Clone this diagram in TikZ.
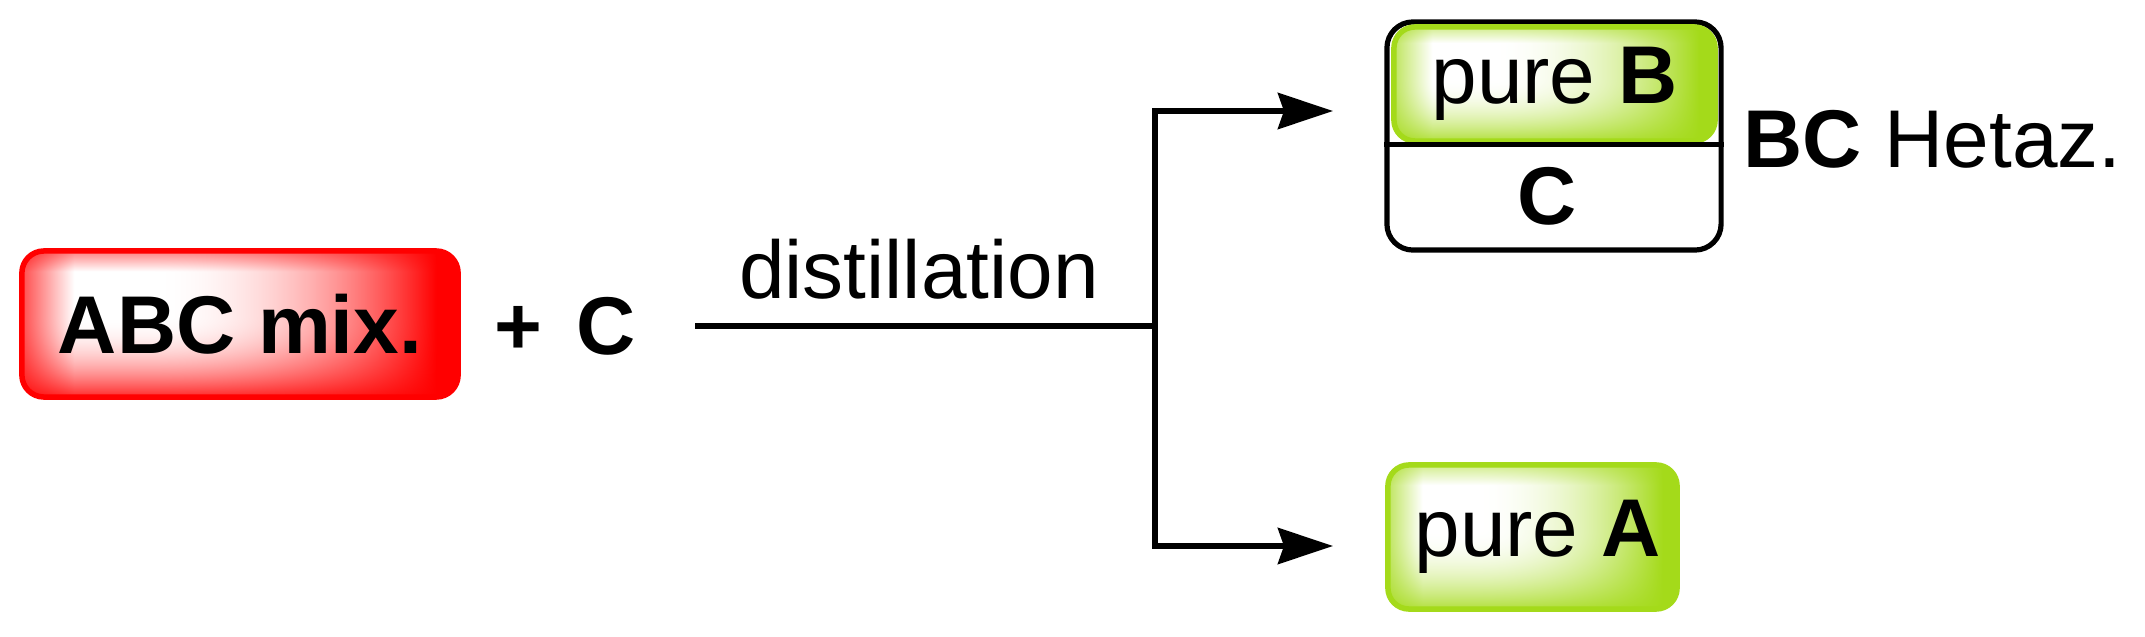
\documentclass[tikz,border=0pt]{standalone}
\usepackage{fontspec}
\setmainfont{Liberation Sans}
\usetikzlibrary{arrows.meta}
\definecolor{lgreen}{rgb}{0.643,0.855,0.102}
% glossy factor P = 1 - redness, computed from x,y (box maps to 25..75)
\pgfdeclarefunctionalshading{redgloss}{\pgfpointorigin}{\pgfpoint{100bp}{100bp}}{}{
  25 sub 50 div
  dup 1.8 mul 1 exch sub dup 0 lt {pop 0} if dup mul 0.85 mul
  exch
  0.86 sub 0.14 div dup 0 lt {pop 0} if dup 1 gt {pop 1} if 0.5 mul
  1 exch sub exch 1 exch sub mul
  exch
  25 sub 50 div
  dup 0.3 sub 0.65 div dup 0 lt {pop 0} if dup 1 gt {pop 1} if dup mul
  1 exch sub
  exch
  0.12 exch sub 0.12 div dup 0 lt {pop 0} if dup 1 gt {pop 1} if 0.7 mul 1 exch sub
  mul mul
  dup 1 3 1 roll
}
\pgfdeclarefunctionalshading{greengloss}{\pgfpointorigin}{\pgfpoint{100bp}{100bp}}{}{
  25 sub 50 div
  dup 1.8 mul 1 exch sub dup 0 lt {pop 0} if dup mul 0.85 mul
  exch
  0.86 sub 0.14 div dup 0 lt {pop 0} if dup 1 gt {pop 1} if 0.5 mul
  1 exch sub exch 1 exch sub mul
  exch
  25 sub 50 div
  dup 0.3 sub 0.65 div dup 0 lt {pop 0} if dup 1 gt {pop 1} if dup mul
  1 exch sub
  exch
  0.12 exch sub 0.12 div dup 0 lt {pop 0} if dup 1 gt {pop 1} if 0.7 mul 1 exch sub
  mul mul
  dup 0.357 mul 0.643 add exch
  dup 0.145 mul 0.855 add exch
  0.898 mul 0.102 add
}
\begin{document}
\begin{tikzpicture}[x=0.01cm, y=-0.01cm,
  every node/.style={font=\fontsize{23.3}{28}\selectfont, inner sep=0pt},
  glossred/.style={draw=red, line width=0.055cm, rounded corners=0.22cm,
    shade, shading=redgloss},
  glossgreen/.style={draw=lgreen, line width=0.055cm, rounded corners=0.21cm,
    shade, shading=greengloss},
  conn/.style={line width=0.058cm},
  arr/.style={line width=0.058cm, -{Stealth[length=0.55cm, width=0.36cm, inset=0.06cm]}},
  outerbox/.style={draw=black, line width=0.052cm, rounded corners=0.26cm}]
\useasboundingbox (0,0) rectangle (2145,637);
% left
\node[glossred, minimum width=4.36cm, minimum height=1.46cm] (abc) at (240,324) {\textbf{ABC mix.}\hspace{0.11cm}};
\node[anchor=base] (plusC) at (565,355) {\textbf{+}\hspace{0.34cm}\textbf{C}};
% connectors
\coordinate (start) at (695,326);
\coordinate (split) at (1155,326);
\coordinate (tB) at (1333,111);
\coordinate (tA) at (1333,546);
\draw[conn] (start) -- (split);
\node[anchor=base] (dist) at (919,299) {distillation};
\draw[arr] (split) |- (tB);
\draw[arr] (split) |- (tA);
% BC box
\node[outerbox, minimum width=3.34cm, minimum height=2.28cm] (bcbox) at (1554,136) {};
\node[glossgreen, minimum width=3.21cm, minimum height=1.14cm] (pureB) at (1554.5,84) {pure \textbf{B}};
\coordinate (divy) at (0,144.5);
\draw[conn] (bcbox.west |- divy) -- (bcbox.east |- divy);
\node[anchor=base] (lowC) at (1547,225) {\textbf{C}};
\node[anchor=base west] (hetaz) at (1743,168) {\textbf{BC} Hetaz.};
% pure A
\node[glossgreen, minimum width=2.89cm, minimum height=1.44cm] (pureA) at (1532.5,537) {\hspace{0.1cm}pure \textbf{A}};
\end{tikzpicture}
\end{document}
